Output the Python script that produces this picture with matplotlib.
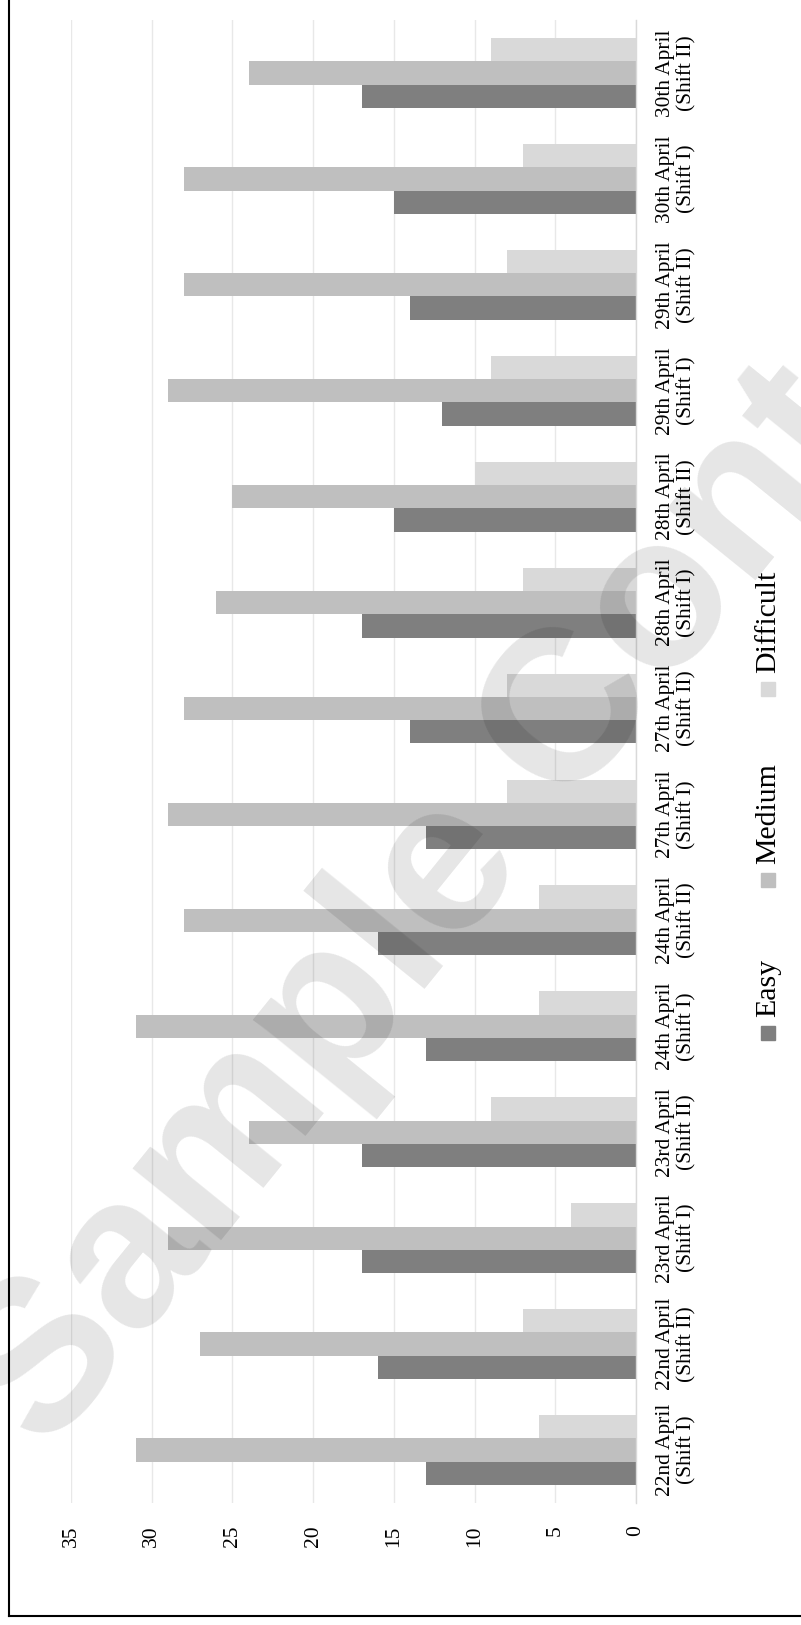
import numpy as np
import matplotlib
matplotlib.use("Agg")
import matplotlib.pyplot as plt
from matplotlib.patches import Rectangle
from matplotlib.lines import Line2D

# %% Data
categories = [
    "22nd April\n(Shift I)", "22nd April\n(Shift II)",
    "23rd April\n(Shift I)", "23rd April\n(Shift II)",
    "24th April\n(Shift I)", "24th April\n(Shift II)",
    "27th April\n(Shift I)", "27th April\n(Shift II)",
    "28th April\n(Shift I)", "28th April\n(Shift II)",
    "29th April\n(Shift I)", "29th April\n(Shift II)",
    "30th April\n(Shift I)", "30th April\n(Shift II)",
]
easy = [13, 16, 17, 17, 13, 16, 13, 14, 17, 15, 12, 14, 15, 17]
medium = [31, 27, 29, 24, 31, 28, 29, 28, 26, 25, 29, 28, 28, 24]
difficult = [6, 7, 4, 9, 6, 6, 8, 8, 7, 10, 9, 8, 7, 9]

series_names = ["Easy", "Medium", "Difficult"]
series_colors = ["#7f7f7f", "#bfbfbf", "#d9d9d9"]
value_ticks = [0, 5, 10, 15, 20, 25, 30, 35]

# %% Figure helpers (pixel -> figure fraction)
W, H = 801, 1625


def fx(px):
    return px / W


def fy(py):
    return 1 - py / H


plt.rcParams["font.family"] = ["Liberation Serif", "DejaVu Serif"]

fig = plt.figure(figsize=(W / 100, H / 100), dpi=100)
ax = fig.add_axes([fx(71), fy(1503), (636 - 71) / W, (1503 - 20) / H])

# %% Bars (chart is turned on its side: values run right-to-left)
y = np.arange(len(categories))
bar_h = 0.22
for k, (vals, col) in enumerate(zip([easy, medium, difficult], series_colors)):
    ax.barh(y + (k - 1) * bar_h, vals, height=bar_h, color=col, zorder=2)

ax.set_xlim(35, 0)
ax.set_ylim(-0.5, len(categories) - 0.5)

ax.set_xticks(value_ticks)
ax.set_xticklabels([str(v) for v in value_ticks], rotation=90, fontsize=15.5)
ax.tick_params(axis="x", length=0, pad=16)
ax.xaxis.grid(True, color="#e8e8e8", lw=1.0)
ax.set_axisbelow(True)

for side in ["top", "bottom", "left"]:
    ax.spines[side].set_visible(False)
ax.spines["right"].set_color("#d9d9d9")
ax.spines["right"].set_linewidth(1.0)

ax.yaxis.tick_right()
ax.set_yticks(y)
ax.set_yticklabels(categories, rotation=90, ha="left", va="center",
                   multialignment="center", linespacing=1.1, fontsize=15.4)
ax.tick_params(axis="y", length=0, pad=14.5)

# %% Legend drawn by hand (rotated)
legend_centers = [1033, 880, 689]
for name, col, sy in zip(series_names, series_colors, legend_centers):
    fig.add_artist(Rectangle((fx(761), fy(sy + 7)), 14 / W, 14 / H,
                             transform=fig.transFigure, color=col))
    fig.text(fx(768), fy(sy - 7 - 9), name, rotation=90,
             ha="center", va="bottom", fontsize=21.5)

# %% Frame lines
fig.add_artist(Line2D([fx(9), fx(9)], [fy(0), fy(1616)], color="black", lw=1.5))
fig.add_artist(Line2D([fx(9), fx(801)], [fy(1616), fy(1616)], color="black", lw=1.5))

# %% Watermark
fig.text(fx(519), fy(784), "Sample Content", rotation=51, rotation_mode="anchor",
         ha="center", va="center", fontsize=155, fontweight="bold",
         family="Liberation Sans", color="black", alpha=0.1, zorder=10)

fig.savefig("out.png", dpi=100)
